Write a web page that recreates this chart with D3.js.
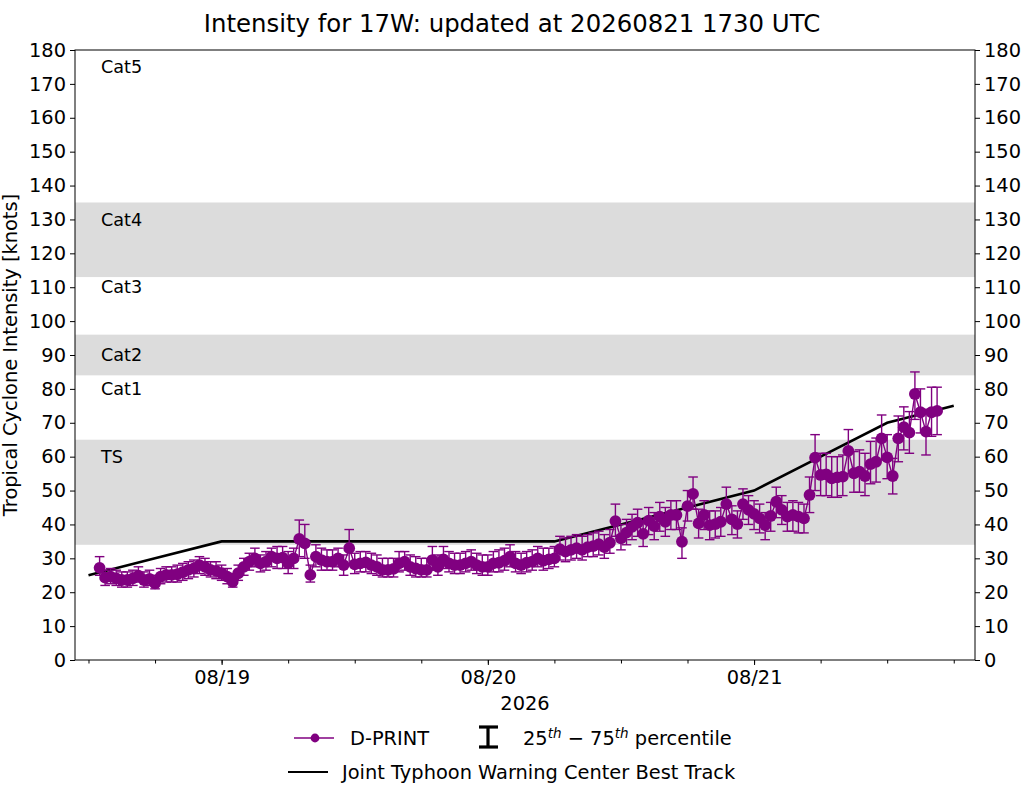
<!DOCTYPE html>
<html lang="en">
<head>
<meta charset="UTF-8">
<title>Intensity for 17W</title>
<script src="https://d3js.org/d3.v7.min.js"></script>
<style>
  body { margin: 0; background: #fff; }
  text { font-family: "DejaVu Sans", sans-serif; fill: #000; }
</style>
</head>
<body>
<svg id="chart" width="1025" height="785"></svg>
<script>
// D-PRINT estimates every 30 min, 08/18 13:00Z .. 08/21 16:30Z
const obsStart = "2026-08-18T13:00:00Z";
const obsEnd = "2026-08-21T17:00:00Z";
const dprint = [
  27.2, 24.3, 24.6, 24.1, 23.6, 23.6, 24.1, 24.9, 23.6, 23.9,
  22.6, 24.6, 25.1, 25.1, 25.3, 25.9, 26.6, 27.0, 28.0, 27.5,
  26.6, 26.3, 25.6, 24.6, 23.1, 25.6, 27.5, 29.0, 30.0, 28.5,
  29.0, 30.5, 30.0, 30.2, 28.5, 30.0, 35.7, 34.4, 25.1, 30.5,
  29.5, 29.0, 29.0, 30.0, 28.0, 33.0, 28.2, 28.5, 28.8, 28.0,
  27.5, 26.6, 26.6, 26.9, 28.5, 29.0, 27.5, 27.0, 26.6, 26.6,
  29.5, 27.5, 29.7, 28.5, 28.0, 28.0, 28.5, 29.0, 28.0, 27.5,
  27.5, 28.5, 28.7, 29.3, 30.5, 28.5, 28.0, 28.7, 29.0, 30.0,
  29.3, 29.7, 30.0, 32.7, 32.0, 32.5, 33.0, 32.5, 33.3, 33.6,
  34.2, 33.3, 34.6, 41.0, 35.9, 37.6, 39.3, 40.5, 37.2, 41.1,
  39.5, 42.3, 40.8, 42.8, 42.8, 34.9, 45.4, 49.0, 40.3, 42.8,
  39.8, 40.1, 40.8, 46.0, 41.5, 40.1, 46.0, 44.3, 43.1, 41.8,
  39.8, 42.5, 46.7, 44.3, 42.3, 42.8, 42.3, 41.8, 48.7, 59.7,
  54.6, 54.8, 53.6, 53.9, 54.1, 61.7, 55.1, 55.6, 54.3, 57.8,
  58.5, 65.4, 59.8, 54.3, 65.4, 68.7, 67.1, 78.5, 73.1, 67.4,
  73.1, 73.5
];
// 25th percentile
const dprintLo = [
  25.0, 22.0, 22.5, 22.0, 21.5, 21.5, 22.0, 23.0, 21.5, 22.0,
  21.0, 22.5, 23.0, 23.0, 23.0, 23.5, 24.0, 24.5, 25.5, 25.0,
  24.5, 24.0, 23.5, 22.5, 21.5, 23.5, 25.0, 26.5, 27.5, 26.0,
  26.5, 27.5, 27.0, 27.0, 25.5, 27.0, 30.5, 30.0, 23.0, 27.5,
  26.5, 26.5, 26.5, 27.5, 25.0, 28.0, 25.5, 26.0, 26.0, 25.5,
  25.0, 24.5, 24.5, 24.5, 26.0, 26.5, 25.0, 24.5, 24.5, 24.5,
  26.5, 25.0, 27.0, 26.0, 25.5, 25.5, 26.0, 26.5, 25.5, 25.0,
  25.0, 26.0, 26.0, 26.5, 27.5, 26.0, 25.5, 26.0, 26.5, 27.5,
  26.5, 27.0, 27.5, 29.5, 29.0, 29.5, 30.0, 29.5, 30.5, 30.5,
  31.0, 30.0, 31.5, 36.5, 32.5, 34.0, 35.5, 36.5, 33.5, 37.0,
  35.5, 38.0, 36.5, 38.5, 38.5, 30.0, 41.0, 44.5, 36.0, 38.5,
  35.5, 36.0, 36.5, 41.0, 37.0, 36.0, 41.5, 40.0, 38.5, 37.5,
  35.5, 38.0, 42.0, 40.0, 38.0, 38.0, 37.5, 37.5, 43.5, 50.0,
  48.5, 48.5, 48.0, 48.0, 48.5, 55.0, 49.5, 49.5, 48.5, 52.0,
  52.5, 59.0, 53.5, 49.0, 58.5, 62.0, 61.0, 71.0, 67.0, 60.5,
  66.0, 66.5
];
// 75th percentile
const dprintHi = [
  30.5, 26.5, 27.0, 26.5, 26.0, 26.0, 26.5, 27.5, 26.0, 26.5,
  25.0, 27.0, 27.5, 27.5, 28.0, 28.5, 29.0, 29.5, 30.5, 30.0,
  29.0, 29.0, 28.0, 27.0, 25.5, 28.0, 30.0, 31.5, 33.0, 31.0,
  32.0, 33.0, 33.5, 33.5, 32.0, 33.0, 41.3, 40.0, 28.0, 34.0,
  33.0, 32.5, 32.5, 33.0, 31.0, 38.5, 31.5, 32.0, 32.0, 31.5,
  31.0, 30.0, 30.0, 30.0, 32.0, 32.0, 31.0, 30.5, 30.0, 30.0,
  33.5, 31.0, 33.5, 32.0, 31.5, 31.5, 32.0, 32.5, 31.5, 31.0,
  31.0, 32.0, 32.5, 33.0, 34.0, 32.0, 31.5, 32.0, 32.5, 33.5,
  33.0, 33.0, 33.5, 36.5, 36.0, 36.5, 37.0, 36.5, 37.0, 37.5,
  38.0, 37.0, 38.5, 46.0, 40.0, 41.5, 43.0, 44.5, 41.0, 45.0,
  43.5, 46.5, 45.0, 47.0, 47.0, 39.0, 50.0, 54.0, 44.5, 47.0,
  44.0, 44.0, 45.0, 51.0, 45.5, 44.0, 50.5, 48.5, 47.0, 46.0,
  43.5, 46.5, 51.0, 48.5, 46.5, 47.0, 46.5, 46.0, 54.0, 66.5,
  61.0, 61.0, 60.0, 60.0, 60.5, 68.0, 61.5, 62.0, 61.0, 64.5,
  65.5, 72.3, 66.5, 59.5, 72.0, 74.7, 73.3, 85.0, 80.0, 74.0,
  80.5, 80.5
];

// JTWC best track
const btTimes = [
  "2026-08-18T12:00:00Z", "2026-08-18T18:00:00Z", "2026-08-19T00:00:00Z",
  "2026-08-19T06:00:00Z", "2026-08-19T12:00:00Z", "2026-08-19T18:00:00Z",
  "2026-08-20T00:00:00Z", "2026-08-20T06:00:00Z", "2026-08-20T12:00:00Z",
  "2026-08-20T18:00:00Z", "2026-08-21T00:00:00Z", "2026-08-21T06:00:00Z",
  "2026-08-21T12:00:00Z", "2026-08-21T18:00:00Z"
];
const btWind = [25, 30, 35, 35, 35, 35, 35, 35, 40, 45, 50, 60, 70, 75];

// Saffir-Simpson shading
const bandLo = [34, 84, 113];
const bandHi = [65, 96, 135];
const catNames = ["TS", "Cat1", "Cat2", "Cat3", "Cat4", "Cat5"];
const catLabelY = [60, 80, 90, 110, 130, 175];

const dayTicks = ["2026-08-19T00:00:00Z", "2026-08-20T00:00:00Z", "2026-08-21T00:00:00Z"];
const yTicks = d3.range(0, 181, 10);

const purple = "#800080";
const pLeft = 75, pRight = 975, pTop = 50, pBottom = 660;
const fs = "19.4px";

const parse = d3.isoParse;
const obsTimes = d3.utcMinute.every(30).range(parse(obsStart), parse(obsEnd));
const obs = obsTimes.map((t, i) => ({t: t, v: dprint[i], lo: dprintLo[i], hi: dprintHi[i]}));
const bt = btTimes.map((t, i) => ({t: parse(t), v: btWind[i]}));

const x = d3.scaleUtc()
  .domain([parse("2026-08-18T10:47:00Z"), parse("2026-08-21T19:55:00Z")])
  .range([pLeft, pRight]);
const y = d3.scaleLinear().domain([0, 180]).range([pBottom, pTop]);

const svg = d3.select("#chart");

// bands
svg.append("g").selectAll("rect")
  .data(bandLo)
  .join("rect")
  .attr("x", pLeft)
  .attr("width", pRight - pLeft)
  .attr("y", (d, i) => y(bandHi[i]))
  .attr("height", (d, i) => y(d) - y(bandHi[i]))
  .attr("fill", "#dcdcdc");

// category labels
svg.append("g").selectAll("text")
  .data(catNames)
  .join("text")
  .attr("x", 101)
  .attr("y", (d, i) => y(catLabelY[i]))
  .attr("dy", "0.35em")
  .style("font-size", "17.6px")
  .text(d => d);

// best track
svg.append("path")
  .datum(bt)
  .attr("fill", "none")
  .attr("stroke", "#000")
  .attr("stroke-width", 2.6)
  .attr("d", d3.line().x(d => x(d.t)).y(d => y(d.v)));

// error bars
const eb = svg.append("g").attr("stroke", purple).attr("stroke-width", 1.4);
eb.selectAll("line.v").data(obs).join("line").attr("class", "v")
  .attr("x1", d => x(d.t)).attr("x2", d => x(d.t))
  .attr("y1", d => y(d.lo)).attr("y2", d => y(d.hi));
eb.selectAll("line.lc").data(obs).join("line").attr("class", "lc")
  .attr("x1", d => x(d.t) - 4.8).attr("x2", d => x(d.t) + 4.8)
  .attr("y1", d => y(d.lo)).attr("y2", d => y(d.lo));
eb.selectAll("line.hc").data(obs).join("line").attr("class", "hc")
  .attr("x1", d => x(d.t) - 4.8).attr("x2", d => x(d.t) + 4.8)
  .attr("y1", d => y(d.hi)).attr("y2", d => y(d.hi));

// D-PRINT line + markers
svg.append("path")
  .datum(obs)
  .attr("fill", "none")
  .attr("stroke", purple)
  .attr("stroke-width", 1.4)
  .attr("d", d3.line().x(d => x(d.t)).y(d => y(d.v)));
svg.append("g").selectAll("circle")
  .data(obs)
  .join("circle")
  .attr("cx", d => x(d.t))
  .attr("cy", d => y(d.v))
  .attr("r", 5.9)
  .attr("fill", purple);

// frame
svg.append("rect")
  .attr("x", pLeft).attr("y", pTop)
  .attr("width", pRight - pLeft).attr("height", pBottom - pTop)
  .attr("fill", "none").attr("stroke", "#000").attr("stroke-width", 1);

// axes
svg.append("g")
  .attr("transform", "translate(" + pLeft + ",0)")
  .call(d3.axisLeft(y).tickValues(yTicks).tickSize(5).tickPadding(4));
svg.append("g")
  .attr("transform", "translate(" + pRight + ",0)")
  .call(d3.axisRight(y).tickValues(yTicks).tickSize(5).tickPadding(4));
svg.append("g")
  .attr("transform", "translate(0," + pBottom + ")")
  .call(d3.axisBottom(x).tickValues(dayTicks.map(parse))
    .tickFormat(d3.utcFormat("%m/%d")).tickSize(5).tickPadding(5));
const minorTicks = d3.utcHour.every(6).range(x.domain()[0], x.domain()[1]);
svg.append("g")
  .attr("transform", "translate(0," + pBottom + ")")
  .call(d3.axisBottom(x).tickValues(minorTicks).tickFormat("").tickSize(3.5));
svg.selectAll(".domain").remove();
svg.selectAll(".tick text").style("font-size", fs).style("font-family", "DejaVu Sans");
svg.selectAll(".tick line").attr("stroke-width", 1);

// titles
svg.append("text")
  .attr("x", 512).attr("y", 32)
  .attr("text-anchor", "middle")
  .style("font-size", "24.4px")
  .text("Intensity for 17W: updated at 20260821 1730 UTC");
svg.append("text")
  .attr("x", (pLeft + pRight) / 2).attr("y", 710)
  .attr("text-anchor", "middle")
  .style("font-size", fs)
  .text("2026");
svg.append("text")
  .attr("transform", "translate(17," + (pTop + pBottom) / 2 + ") rotate(-90)")
  .attr("text-anchor", "middle")
  .style("font-size", fs)
  .text("Tropical Cyclone Intensity [knots]");

// legend
const lg = svg.append("g");
lg.append("line").attr("x1", 294).attr("x2", 334).attr("y1", 738).attr("y2", 738)
  .attr("stroke", purple).attr("stroke-width", 1.6);
lg.append("circle").attr("cx", 315).attr("cy", 738).attr("r", 4.4).attr("fill", purple);
lg.append("text").attr("x", 350).attr("y", 738).attr("dy", "0.35em")
  .style("font-size", fs).text("D-PRINT");
const ic = lg.append("g").attr("stroke", "#000").attr("stroke-width", 3.2);
ic.append("line").attr("x1", 488).attr("x2", 488).attr("y1", 727).attr("y2", 747);
ic.append("line").attr("x1", 479).attr("x2", 498).attr("y1", 727).attr("y2", 727);
ic.append("line").attr("x1", 479).attr("x2", 498).attr("y1", 747).attr("y2", 747);
const pct = lg.append("text").attr("x", 523).attr("y", 745).style("font-size", fs);
pct.append("tspan").text("25");
pct.append("tspan").attr("dy", -7).style("font-size", "13.5px").style("font-style", "italic").text("th");
pct.append("tspan").attr("dy", 7).text(" \u2212 75");
pct.append("tspan").attr("dy", -7).style("font-size", "13.5px").style("font-style", "italic").text("th");
pct.append("tspan").attr("dy", 7).text(" percentile");
lg.append("line").attr("x1", 288).attr("x2", 328).attr("y1", 772).attr("y2", 772)
  .attr("stroke", "#000").attr("stroke-width", 2.2);
lg.append("text").attr("x", 342).attr("y", 772).attr("dy", "0.35em")
  .style("font-size", fs).text("Joint Typhoon Warning Center Best Track");
</script>
</body>
</html>
